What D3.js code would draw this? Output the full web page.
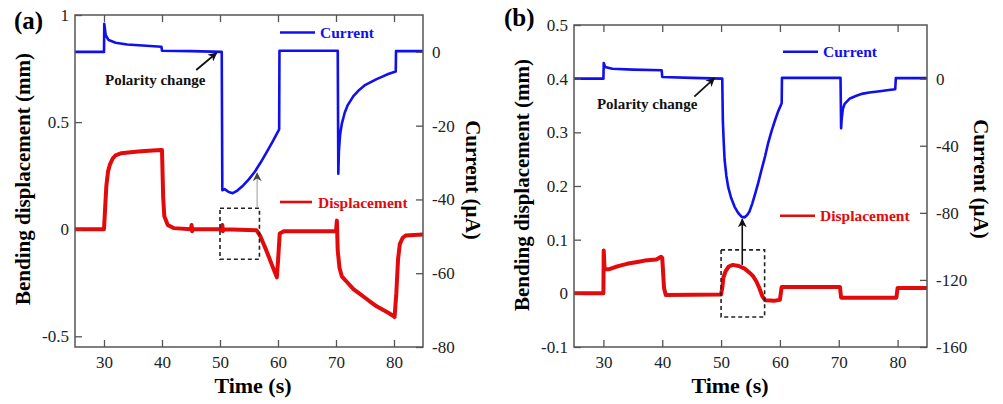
<!DOCTYPE html>
<html>
<head>
<meta charset="utf-8">
<script src="https://cdn.jsdelivr.net/npm/d3@7"></script>
<style>
  body { margin: 0; background: #fff; }
  text { font-family: "Liberation Serif", "Times New Roman", serif; }
</style>
</head>
<body>
<div id="graph"></div>
<script>
// ---- data: [time (s), value] ----
var timeDomain = [25, 85];
var timeTicks = [30, 40, 50, 60, 70, 80];

// panel (a): current in uA, displacement in mm
var currentA = [[25,0],[30,0],[30.05,7.6],[30.3,4.5],[30.8,3.2],[32,2.5],[34,2.0],[36,1.8],
  [39.9,1.4],[40,0.3],[45,0.2],[50.3,0],[50.4,-37.5],[50.8,-37.2],[51.5,-38],[52.2,-38.3],
  [53,-37.6],[54,-36.2],[55,-34.5],[56,-32.5],[57,-30],[58,-27.3],[59,-24.5],[60.2,-21],
  [60.25,0.3],[70.3,0.3],[70.4,-33],[70.5,-27],[70.7,-22.5],[71,-19.5],[71.5,-16.5],[72,-14.5],
  [73,-12],[74,-10.3],[75,-9],[76,-8.2],[77,-7.4],[78,-6.7],[79,-6.0],[80.3,-5.3],[80.35,0.2],[85,0.2]];
var dispA = [[25,0],[30,0],[30.2,0.1],[30.4,0.2],[30.7,0.27],[31,0.3],[31.5,0.33],[32,0.345],
  [33,0.355],[35,0.36],[37,0.365],[39.8,0.37],[40,0.37],[40.2,0.15],[40.4,0.06],[41,0.02],
  [42,0.005],[45,0],[45.1,0.02],[45.2,-0.01],[45.3,0],[50.3,0],[50.4,0.02],[50.5,-0.01],[50.6,0],
  [56.3,-0.005],[57,-0.035],[58,-0.1],[59,-0.17],[59.8,-0.225],[60,-0.15],[60.3,-0.02],
  [61,-0.01],[70,-0.01],[70.15,0.04],[70.3,-0.1],[70.6,-0.18],[71,-0.22],[72,-0.25],[73,-0.28],
  [74,-0.3],[75,-0.32],[76,-0.34],[77,-0.36],[78,-0.375],[79,-0.39],[79.9,-0.405],[80.1,-0.41],
  [80.4,-0.3],[80.7,-0.14],[81,-0.07],[81.5,-0.04],[82,-0.03],[85,-0.025]];
var dispTicksA = [-0.5, 0, 0.5, 1];
var currentTicksA = [0, -20, -40, -60, -80];

// panel (b)
var currentB = [[25,0],[30,0],[30.05,9.3],[30.3,7],[31.5,5.9],[35,5.4],[39.9,5],[40,1],[45,0.5],
  [50.2,0],[50.3,-25],[50.45,-38],[50.6,-48.5],[50.9,-58],[51.2,-64.5],[51.7,-71],[52.3,-76.4],
  [52.9,-80],[53.5,-82.4],[54,-82.7],[54.4,-81.5],[54.8,-79.4],[55.3,-74.5],[55.8,-68.5],
  [56.3,-62.3],[56.9,-54],[57.5,-46],[58,-38.4],[58.6,-31],[59.2,-24.5],[59.7,-19.5],[60.3,-14.7],
  [60.35,0.5],[70.3,0.5],[70.4,-29.5],[70.5,-24],[70.7,-18],[71,-15],[71.9,-11.8],[73,-10.2],
  [74.1,-8.9],[75.5,-8.1],[77,-7.5],[78.5,-6.8],[79.6,-6.3],[79.7,0.3],[85,0.3]];
var dispB = [[25,0],[30,0],[30.05,0.08],[30.2,0.045],[31,0.045],[32,0.049],[33,0.052],[34,0.055],
  [35,0.057],[36,0.059],[37,0.061],[38,0.062],[39,0.063],[39.8,0.068],[40,0.066],[40.3,0.01],
  [40.6,-0.003],[50,-0.002],[50.2,0.01],[50.4,0.03],[50.8,0.042],[51.3,0.05],[52,0.053],
  [53,0.051],[54,0.046],[55,0.037],[55.5,0.031],[56,0.022],[56.5,0.01],[57,-0.005],[57.5,-0.013],
  [59,-0.014],[60,-0.012],[60.3,0.012],[70.2,0.012],[70.4,-0.008],[79.8,-0.008],[80,0.01],[85,0.01]];
var dispTicksB = [-0.1, 0, 0.1, 0.2, 0.3, 0.4, 0.5];
var currentTicksB = [0, -40, -80, -120, -160];

// annotations, in data units
var polarityA = [[45.9, -4.9], [49.4, -0.3]];     // (time, current)
var polarityB = [[45.45, -10.7], [48.85, 0.2]];
var polarityTextA = [30.17, -8.95];
var polarityTextB = [28.9, -18.1];
var boxA = [50, 56.8, -0.14, 0.098];              // t0, t1, disp0, disp1
var boxB = [50, 57.4, -0.044, 0.081];
var upArrowA = [56.4, 0.104, 0.262];              // t, disp from, disp to
var upArrowB = [53.6, 0.053, 0.138];

var blue = "#1010ee";
var red = "#e20a0a";

var svg = d3.select("#graph").append("svg")
    .attr("width", 1003)
    .attr("height", 404)
    .style("background", "#fff");

var defs = svg.append("defs");
function addMarker(id, color) {
    defs.append("marker")
	.attr("id", id)
	.attr("viewBox", "0 0 10 10")
	.attr("refX", 9).attr("refY", 5)
	.attr("markerWidth", 9).attr("markerHeight", 9)
	.attr("markerUnits", "userSpaceOnUse")
	.attr("orient", "auto")
	.append("path")
	.attr("d", "M0,0 L10,5 L0,10 L3,5 z")
	.attr("fill", color);
}
addMarker("headBlack", "#111");
addMarker("headGray", "#444");

/*
  drawPanel

  p: layout and data for one panel.
  Draws frame, both y axes, both curves, legend and the annotations.
*/
function drawPanel(p) {
    var g = svg.append("g");
    var x0 = p.left, x1 = p.left + p.width;
    var y0 = p.top, y1 = p.top + p.height;

    var x = d3.scaleLinear().domain(timeDomain).range([x0, x1]);
    var yD = d3.scaleLinear().domain(p.dispDomain).range([y1, y0]);
    var yC = d3.scaleLinear().domain(p.curDomain).range([y1, y0]);

    var clipId = "clip" + p.name;
    defs.append("clipPath").attr("id", clipId)
	.append("rect")
	.attr("x", x0).attr("y", y0)
	.attr("width", p.width).attr("height", p.height);

    // curves
    var lineD = d3.line().x(function(d) { return x(d[0]); }).y(function(d) { return yD(d[1]); });
    var lineC = d3.line().x(function(d) { return x(d[0]); }).y(function(d) { return yC(d[1]); });

    g.append("path")
	.datum(p.disp)
	.attr("clip-path", "url(#" + clipId + ")")
	.attr("d", lineD)
	.attr("fill", "none")
	.attr("stroke", red)
	.attr("stroke-width", 4)
	.attr("stroke-linejoin", "round");

    g.append("path")
	.datum(p.current)
	.attr("clip-path", "url(#" + clipId + ")")
	.attr("d", lineC)
	.attr("fill", "none")
	.attr("stroke", blue)
	.attr("stroke-width", 2.6)
	.attr("stroke-linejoin", "round");

    // axes, ticks pointing inward
    var fmt = function(d) { return String(d); };
    var axes = [
	[d3.axisBottom(x).tickValues(timeTicks).tickFormat(fmt).tickPadding(9), "translate(0," + y1 + ")"],
	[d3.axisTop(x).tickValues(timeTicks).tickFormat(""), "translate(0," + y0 + ")"],
	[d3.axisLeft(yD).tickValues(p.dispTicks).tickFormat(fmt).tickPadding(6), "translate(" + x0 + ",0)"],
	[d3.axisRight(yC).tickValues(p.curTicks).tickFormat(fmt).tickPadding(9), "translate(" + x1 + ",0)"]
    ];
    axes.forEach(function(a) {
	var ax = g.append("g")
	    .attr("transform", a[1])
	    .call(a[0].tickSize(-7).tickSizeOuter(0));
	ax.select(".domain").remove();
	ax.selectAll("line").attr("stroke", "#555").attr("stroke-width", 1.3);
	ax.selectAll("text")
	    .style("font-family", "'Liberation Serif', serif")
	    .style("font-size", "17px")
	    .attr("fill", "#222");
    });

    g.append("rect")
	.attr("x", x0).attr("y", y0)
	.attr("width", p.width).attr("height", p.height)
	.attr("fill", "none")
	.attr("stroke", "#555")
	.attr("stroke-width", 1.5);

    // axis titles
    g.append("text")
	.attr("transform", "translate(" + p.leftTitle[0] + "," + p.leftTitle[1] + ") rotate(-90)")
	.attr("text-anchor", "middle")
	.style("font-size", "21px").style("font-weight", "bold")
	.text("Bending displacement (mm)");
    g.append("text")
	.attr("transform", "translate(" + p.rightTitle[0] + "," + p.rightTitle[1] + ") rotate(90)")
	.attr("text-anchor", "middle")
	.style("font-size", "21px").style("font-weight", "bold")
	.text("Current (\u00b5A)");
    g.append("text")
	.attr("x", p.timeTitle[0]).attr("y", p.timeTitle[1])
	.attr("text-anchor", "middle")
	.style("font-size", "22px").style("font-weight", "bold")
	.text("Time (s)");
    g.append("text")
	.attr("x", p.tag[0]).attr("y", p.tag[1])
	.style("font-size", "25px").style("font-weight", "bold")
	.text(p.label);

    // legend
    [[p.legCur, blue, "Current"], [p.legDisp, red, "Displacement"]].forEach(function(l) {
	var o = l[0];
	g.append("line")
	    .attr("x1", x0 + o[0]).attr("x2", x0 + o[1])
	    .attr("y1", y0 + o[2]).attr("y2", y0 + o[2])
	    .attr("stroke", l[1]).attr("stroke-width", 2.6);
	g.append("text")
	    .attr("x", x0 + o[3]).attr("y", y0 + o[4])
	    .attr("fill", l[1])
	    .style("font-size", "15.5px").style("font-weight", "bold")
	    .text(l[2]);
    });

    // polarity change annotation
    g.append("line")
	.attr("x1", x(p.polarity[0][0])).attr("y1", yC(p.polarity[0][1]))
	.attr("x2", x(p.polarity[1][0])).attr("y2", yC(p.polarity[1][1]))
	.attr("stroke", "#111").attr("stroke-width", 1.8)
	.attr("marker-end", "url(#headBlack)");
    g.append("text")
	.attr("x", x(p.polarityText[0])).attr("y", yC(p.polarityText[1]))
	.style("font-size", "15px").style("font-weight", "bold")
	.attr("fill", "#111")
	.text("Polarity change");

    // dashed box around the region of interest
    g.append("rect")
	.attr("x", x(p.box[0])).attr("y", yD(p.box[3]))
	.attr("width", x(p.box[1]) - x(p.box[0]))
	.attr("height", yD(p.box[2]) - yD(p.box[3]))
	.attr("fill", "none")
	.attr("stroke", "#222").attr("stroke-width", 1.6)
	.attr("stroke-dasharray", "4,3");

    g.append("line")
	.attr("x1", x(p.upArrow[0])).attr("x2", x(p.upArrow[0]))
	.attr("y1", yD(p.upArrow[1])).attr("y2", yD(p.upArrow[2]))
	.attr("stroke", p.upColor).attr("stroke-width", p.upWidth)
	.attr("marker-end", "url(#" + p.upHead + ")");
}

drawPanel({
    name: "a", label: "(a)",
    left: 75, top: 15, width: 348, height: 332,
    dispDomain: [-0.55, 1], curDomain: [-80, 10],
    dispTicks: dispTicksA, curTicks: currentTicksA,
    current: currentA, disp: dispA,
    polarity: polarityA, polarityText: polarityTextA,
    box: boxA, upArrow: upArrowA, upColor: "#aaa", upWidth: 1.2, upHead: "headGray",
    legCur: [205, 240, 17.5, 245, 22.5],
    legDisp: [205, 237, 187, 243, 192.5],
    leftTitle: [30, 179], rightTitle: [466, 180], timeTitle: [253, 393], tag: [14, 29]
});

drawPanel({
    name: "b", label: "(b)",
    left: 574, top: 25, width: 353, height: 322,
    dispDomain: [-0.1, 0.5], curDomain: [-160, 32],
    dispTicks: dispTicksB, curTicks: currentTicksB,
    current: currentB, disp: dispB,
    polarity: polarityB, polarityText: polarityTextB,
    box: boxB, upArrow: upArrowB, upColor: "#111", upWidth: 1.6, upHead: "headBlack",
    legCur: [209, 244, 26.7, 249, 31.5],
    legDisp: [206, 241, 190.7, 246, 196],
    leftTitle: [529, 185], rightTitle: [974, 179], timeTitle: [730, 393], tag: [504, 26]
});
</script>
</body>
</html>
